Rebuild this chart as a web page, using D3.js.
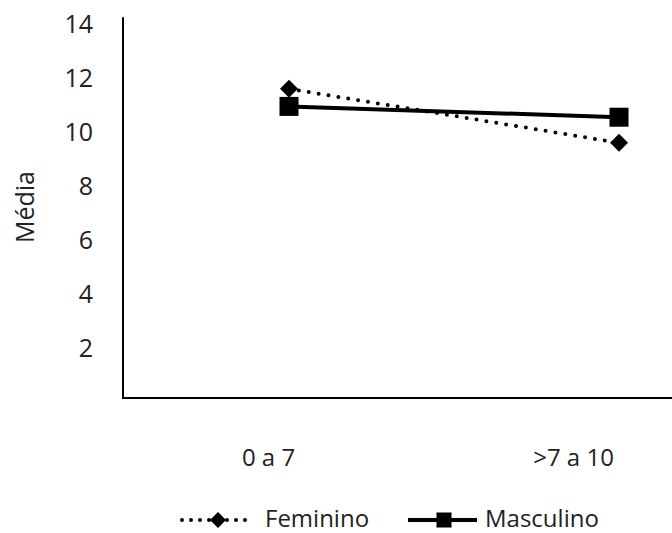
<!DOCTYPE html>
<html>
<head>
<meta charset="utf-8">
<script src="https://cdn.jsdelivr.net/npm/d3@7"></script>
<style>
  body { margin: 0; background: #fff; }
  svg { display: block; font-family: "Open Sans", sans-serif; }
</style>
</head>
<body>
<script>
// categorias do eixo x
const categories = ['0 a 7', '>7 a 10'];
// médias por sexo
const feminino = [11.45, 9.45];
const masculino = [10.8, 10.4];
const yTicks = [2, 4, 6, 8, 10, 12, 14];

const series = [
  {name: 'Feminino', values: feminino, dash: '0 10', marker: 'diamond'},
  {name: 'Masculino', values: masculino, dash: null, marker: 'square'}
];

const WIDTH = 672;
const HEIGHT = 533;
const MARGIN = {top: 20, left: 123, bottom: 135};

const svg = d3.select('body')
  .append('svg')
  .attr('width', WIDTH)
  .attr('height', HEIGHT);

// the plot area runs past the right edge of the picture
const xScale = d3.scaleBand()
  .domain(categories)
  .range([124, 784]);
const labelScale = d3.scaleBand()
  .domain(categories)
  .range([116, 726]);
const yScale = d3.scaleLinear()
  .domain([0, 14])
  .range([HEIGHT - MARGIN.bottom, MARGIN.top]);

const baseY = yScale(0);

// y axis
const yAxis = svg.append('g')
  .attr('transform', 'translate(' + MARGIN.left + ',0)')
  .call(d3.axisLeft(yScale).tickValues(yTicks).tickSize(0).tickPadding(30));
yAxis.select('.domain').remove();
yAxis.selectAll('text')
  .attr('dy', '0.32em')
  .attr('transform', 'translate(0,4)')
  .attr('font-size', 25)
  .attr('font-family', '"Open Sans", sans-serif')
  .attr('fill', '#222');

// x axis labels
const xAxis = svg.append('g')
  .attr('transform', 'translate(0,' + baseY + ')')
  .call(d3.axisBottom(labelScale).tickSize(0).tickPadding(51));
xAxis.select('.domain').remove();
xAxis.selectAll('text')
  .attr('font-size', 24)
  .attr('font-family', '"Open Sans", sans-serif')
  .attr('fill', '#222');

// axis lines
svg.append('path')
  .attr('d', 'M' + MARGIN.left + ',' + yScale(14.1) + 'V' + baseY + 'H' + WIDTH)
  .attr('fill', 'none')
  .attr('stroke', '#000')
  .attr('stroke-width', 2);

// y title
svg.append('text')
  .attr('transform', 'translate(34,207) rotate(-90)')
  .attr('text-anchor', 'middle')
  .attr('font-size', 25)
  .attr('fill', '#222')
  .text('Média');

function drawMarker(g, type, x, y, size) {
  if (type === 'square') {
    g.append('rect')
      .attr('x', x - size / 2)
      .attr('y', y - size / 2)
      .attr('width', size)
      .attr('height', size)
      .attr('fill', '#000');
  } else {
    const h = size / 2;
    g.append('path')
      .attr('d', 'M' + x + ',' + (y - h) + 'L' + (x + h) + ',' + y + 'L' + x + ',' + (y + h) + 'L' + (x - h) + ',' + y + 'Z')
      .attr('fill', '#000');
  }
}

const line = d3.line()
  .x((d, i) => xScale(categories[i]) + xScale.bandwidth() / 2)
  .y(d => yScale(d));

series.forEach(s => {
  const g = svg.append('g');
  g.append('path')
    .attr('d', line(s.values))
    .attr('fill', 'none')
    .attr('stroke', '#000')
    .attr('stroke-width', 4)
    .attr('stroke-linecap', s.dash ? 'round' : 'butt')
    .attr('stroke-dasharray', s.dash);
  s.values.forEach((v, i) => {
    drawMarker(g, s.marker, xScale(categories[i]) + xScale.bandwidth() / 2, yScale(v),
      s.marker === 'square' ? 19 : 18);
  });
});

// legend
const legendX = [182, 408];
const legendY = 520;
series.forEach((s, i) => {
  const g = svg.append('g');
  const x0 = legendX[i];
  g.append('line')
    .attr('x1', x0).attr('x2', x0 + 69)
    .attr('y1', legendY).attr('y2', legendY)
    .attr('stroke', '#000')
    .attr('stroke-width', 4)
    .attr('stroke-linecap', s.dash ? 'round' : 'butt')
    .attr('stroke-dasharray', s.dash ? '0 9' : null);
  drawMarker(g, s.marker, x0 + 36, legendY, s.marker === 'square' ? 15 : 16);
  g.append('text')
    .attr('x', x0 + (s.dash ? 83 : 77))
    .attr('y', 527)
    .attr('font-size', 24)
    .attr('fill', '#222')
    .text(s.name);
});
</script>
</body>
</html>
